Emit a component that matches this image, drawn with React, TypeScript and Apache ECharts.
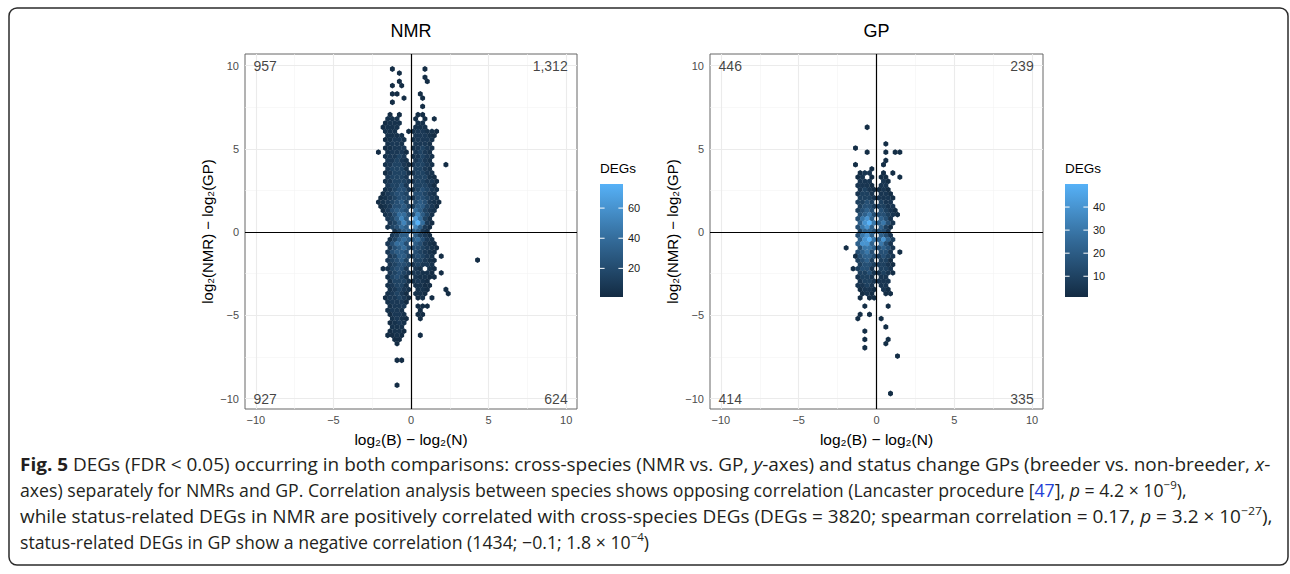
import React, { useEffect, useRef } from "react";
import * as echarts from "echarts";

// ---------- data ----------
const panelTitles = ["NMR", "GP"];
const axisTicks = [-10, -5, 0, 5, 10];
const minorBreaks = [-7.5, -2.5, 2.5, 7.5];
const zeroLines = [0];
const xTitle = "log\u2082(B) \u2212 log\u2082(N)";
const yTitle = "log\u2082(NMR) \u2212 log\u2082(GP)";

// quadrant counts: top-left, top-right, bottom-left, bottom-right
const nmrQuadrantCounts = ["957", "1,312", "927", "624"];
const gpQuadrantCounts = ["446", "239", "414", "335"];
const quadrantAnchors = [
  [-10.15, 10],
  [10.1, 10],
  [-10.15, -10],
  [10.1, -10],
];

// hexbin lattice (data units); odd rows shifted by half a column
const hexTopY = 9.8;
const hexRowStep = 0.25;
const hexColStep = 0.3;
const hexFirstCol = -2.4;
const levelChars = ".123456789ab";
const levelCounts = [0, 2, 5, 9, 15, 22, 30, 40, 52, 64, 72, 76];

const nmrHexRows = [
  "....1......1.....",
  ".....1...........",
  "...........1.....",
  ".....1.....1.....",
  "....1.1..........",
  "",
  "....11....1......",
  "......1...1......",
  "....1............",
  "..........1......",
  "",
  "...1.1...11......",
  "...222...1.1.1...",
  "..1222...22......",
  "..1222...222.....",
  "..222..1233221...",
  "...2222..33321...",
  "..12332.23332....",
  "...2332..3332....",
  "..12333.23432....",
  ".1.23331.3432....",
  "..23343.23432....",
  "...33432.3432....",
  "..23443134432..1.",
  "...34442.4432....",
  "..13444234432....",
  "...34443.44421...",
  "..234443344331...",
  "...34453.44431...",
  "..234553245432...",
  "..134554.55432...",
  ".1234554355432...",
  ".1234564.565321..",
  ".1235564466431...",
  "..135665.76432...",
  "..23577558642....",
  "...34686.9742....",
  "...346868b731....",
  "...24576.8631....",
  "....24666631.....",
  "....3466.6431....",
  "...2467667532....",
  "...35775.65321...",
  "...35675554321...",
  "...35665.54321...",
  "...3466445432.1..",
  "...34564.44321...",
  "...3455434332....",
  "..124553.32.21...",
  "...3454333221.1..",
  "...24542.32211...",
  "...244422321.....",
  "...23442.2211....",
  "...23432.221...1.",
  "...23431.221....1",
  "..133431.12.1....",
  "...23331.........",
  "...2333..111.....",
  "...2332...1......",
  "...1332..11......",
  "....2321..1......",
  "...1232..........",
  "....222..........",
  "...1221..........",
  "...1121...1......",
  "....11...........",
  ".....1...........",
  "",
  "",
  "",
  ".....11..........",
  "",
  "",
  "",
  "",
  "",
  ".....1...........",
];
const nmrExtraCells = [[4.29, -1.68, 2]];

const gpHexRows = [
  "", "", "", "", "", "", "", "", "", "", "", "", "", "",
  "......1..........",
  "",
  "",
  "",
  "..........1......",
  "...1.............",
  "......1...1.11...",
  "",
  "..........1......",
  "...1.....1.......",
  ".......1.........",
  "....122..1.1.....",
  "....12.1.11..1...",
  "....222..21......",
  "....2221.22......",
  "....2321121......",
  "....2332.221.....",
  "....33322221.....",
  "....3343.322.....",
  "....34433322.....",
  "....3454.4321....",
  "....456444321....",
  "....4675.542.....",
  "....57865642.....",
  "....4675.531.....",
  "....3554442......",
  "....4675.542.....",
  "....57865753.....",
  "....5775.642.....",
  ".1..46654542.....",
  "....4564.442.1...",
  "...145543432.....",
  "....3453.331.....",
  "....34433321.....",
  "...13442.332.....",
  "....33422321.....",
  "....2332.22......",
  "....2332222......",
  "....2232.22......",
  "....1221.21......",
  ".....121..11.....",
  "....1.11.........",
  "",
  ".....1....1......",
  "",
  "....1.1..........",
  "....1....1.......",
  "",
  "..........1......",
  ".....1...........",
  "",
  ".....1....1......",
  "..........1......",
  ".....1...........",
  "",
  "............1....",
  "", "", "", "", "", "", "", "",
  "...........1.....",
];
const gpExtraCells: number[][] = [];

const nmrCountRange = [1, 76];
const gpCountRange = [1, 50];
const nmrLegendTicks = [20, 40, 60];
const gpLegendTicks = [10, 20, 30, 40];
const legendTitle = "DEGs";

const captionLines = [
  "{b|Fig. 5} DEGs (FDR < 0.05) occurring in both comparisons: cross-species (NMR vs. GP, {i|y}-axes) and status change GPs (breeder vs. non-breeder, {i|x}-",
  "axes) separately for NMRs and GP. Correlation analysis between species shows opposing correlation (Lancaster procedure [{a|47}], {i|p} = 4.2 × 10{s|\u22129}),",
  "while status-related DEGs in NMR are positively correlated with cross-species DEGs (DEGs = 3820; spearman correlation = 0.17, {i|p} = 3.2 × 10{s|\u221227}),",
  "status-related DEGs in GP show a negative correlation (1434; \u22120.1; 1.8 × 10{s|\u22124})",
];

// ---------- helpers ----------
const FONT = "'Liberation Sans', Arial, Helvetica, sans-serif";
const CAP_FONT = "'Open Sans', 'Noto Sans', sans-serif";
const hexColors = ["#132B43", "#336A98", "#56B1F7"];
const HEX_PATH = "path://M0,0 L8.66,5 L8.66,15 L0,20 L-8.66,15 L-8.66,5 Z";
// justified lines (1st and 3rd) are stretched to the full text width
const captionStretch = [1.072, 1, 1.072, 1];

function decodeHex(rows: string[], extra: number[][]) {
  const out: number[][] = [];
  rows.forEach((row, r) => {
    const y = hexTopY - r * hexRowStep;
    const shift = r % 2 === 1 ? hexColStep / 2 : 0;
    for (let c = 0; c < row.length; c++) {
      const lv = levelChars.indexOf(row[c]);
      if (lv > 0) {
        out.push([
          +(hexFirstCol + shift + c * hexColStep).toFixed(3),
          +y.toFixed(3),
          levelCounts[lv],
        ]);
      }
    }
  });
  extra.forEach((e) => out.push(e));
  return out;
}

const fmtTick = (v: number) => (v < 0 ? "\u2212" + Math.abs(v) : String(v));

const grids = [
  { left: 245, top: 54, width: 332, height: 355 },
  { left: 710, top: 54, width: 333, height: 355 },
];

function buildOption() {
  const majorStyle = { color: "#EBEBEB", width: 1.1, type: "solid" };
  const minorStyle = { color: "#F3F3F3", width: 0.6, type: "solid" };
  const gridLineData: any[] = [];
  minorBreaks.forEach((v) => {
    gridLineData.push({ xAxis: v, lineStyle: minorStyle });
    gridLineData.push({ yAxis: v, lineStyle: minorStyle });
  });
  axisTicks.forEach((v) => {
    gridLineData.push({ xAxis: v, lineStyle: majorStyle });
    gridLineData.push({ yAxis: v, lineStyle: majorStyle });
  });
  const zeroData: any[] = [];
  zeroLines.forEach((v) => {
    zeroData.push({ xAxis: v });
    zeroData.push({ yAxis: v });
  });

  const panels = [
    { hex: decodeHex(nmrHexRows, nmrExtraCells), counts: nmrQuadrantCounts, range: nmrCountRange },
    { hex: decodeHex(gpHexRows, gpExtraCells), counts: gpQuadrantCounts, range: gpCountRange },
  ];

  const series: any[] = [];
  const visualMap: any[] = [];
  panels.forEach((p, i) => {
    series.push({
      type: "scatter",
      xAxisIndex: i,
      yAxisIndex: i,
      data: [],
      silent: true,
      z: 1,
      markLine: {
        silent: true,
        z: 1,
        symbol: ["none", "none"],
        label: { show: false },
        animation: false,
        data: gridLineData,
      },
    });
    series.push({
      type: "scatter",
      xAxisIndex: i,
      yAxisIndex: i,
      symbol: HEX_PATH,
      symbolSize: [4.9, 5.8],
      silent: true,
      z: 2,
      itemStyle: { opacity: 1 },
      data: p.hex,
    });
    series.push({
      type: "scatter",
      xAxisIndex: i,
      yAxisIndex: i,
      data: [],
      silent: true,
      z: 3,
      markLine: {
        silent: true,
        z: 3,
        symbol: ["none", "none"],
        label: { show: false },
        animation: false,
        lineStyle: { color: "#000", width: 1.2, type: "solid" },
        data: zeroData,
      },
    });
    series.push({
      type: "scatter",
      xAxisIndex: i,
      yAxisIndex: i,
      symbolSize: 0,
      silent: true,
      z: 4,
      data: quadrantAnchors.map((a, k) => ({
        value: a,
        name: p.counts[k],
        label: { position: k % 2 === 0 ? "right" : "left" },
      })),
      label: {
        show: true,
        distance: 0,
        formatter: (q: any) => q.name,
        color: "#111",
        fontSize: 14,
        fontFamily: FONT,
      },
    });
    visualMap.push({
      type: "continuous",
      show: false,
      seriesIndex: i * 4 + 1,
      dimension: 2,
      min: p.range[0],
      max: p.range[1],
      inRange: { color: hexColors, opacity: 1 },
    });
  });

  const xAxis = grids.map((_, i) => ({
    type: "value",
    gridIndex: i,
    min: -10.7,
    max: 10.7,
    axisLine: { show: false },
    axisTick: { show: true, length: 3, lineStyle: { color: "#333", width: 1 }, customValues: axisTicks },
    axisLabel: { customValues: axisTicks, color: "#4D4D4D", fontSize: 11, fontFamily: FONT, margin: 5, formatter: fmtTick },
    splitLine: { show: false },
    name: xTitle,
    nameLocation: "middle",
    nameGap: 22,
    nameTextStyle: { color: "#000", fontSize: 15.5, fontFamily: FONT },
  }));
  const yAxis = grids.map((_, i) => ({
    type: "value",
    gridIndex: i,
    min: -10.63,
    max: 10.7,
    axisLine: { show: false },
    axisTick: { show: true, length: 3, lineStyle: { color: "#333", width: 1 }, customValues: axisTicks },
    axisLabel: { customValues: axisTicks, color: "#4D4D4D", fontSize: 11, fontFamily: FONT, margin: 6, formatter: fmtTick },
    splitLine: { show: false },
    name: yTitle,
    nameLocation: "middle",
    nameRotate: 90,
    nameGap: 30,
    nameTextStyle: { color: "#000", fontSize: 15, fontFamily: FONT },
  }));

  // graphic: frame, titles, colour bars, caption
  const graphic: any[] = [];
  graphic.push({
    type: "rect",
    shape: { x: 9, y: 8, width: 1279, height: 557, r: 8 },
    style: { fill: "none", stroke: "#2b2b2b", lineWidth: 1.5 },
    silent: true,
  });
  grids.forEach((g, i) => {
    graphic.push({
      type: "text",
      x: g.left + g.width / 2,
      y: 31,
      style: { text: panelTitles[i], align: "center", verticalAlign: "middle", fontSize: 18, fontFamily: FONT, fill: "#000" },
      silent: true,
    });
  });
  const legends = [
    { left: grids[0].left + grids[0].width + 23, range: nmrCountRange, ticks: nmrLegendTicks },
    { left: grids[1].left + grids[1].width + 22, range: gpCountRange, ticks: gpLegendTicks },
  ];
  const barTop = 184;
  const barH = 113;
  const barW = 23;
  legends.forEach((L) => {
    graphic.push({
      type: "text",
      x: L.left,
      y: 168,
      style: { text: legendTitle, align: "left", verticalAlign: "middle", fontSize: 13.5, fontFamily: FONT, fill: "#000" },
      silent: true,
    });
    graphic.push({
      type: "rect",
      shape: { x: L.left, y: barTop, width: barW, height: barH },
      style: {
        fill: new echarts.graphic.LinearGradient(0, 0, 0, 1, [
          { offset: 0, color: hexColors[2] },
          { offset: 0.5, color: hexColors[1] },
          { offset: 1, color: hexColors[0] },
        ]),
      },
      silent: true,
    });
    L.ticks.forEach((t) => {
      const y = barTop + ((L.range[1] - t) / (L.range[1] - L.range[0])) * barH;
      graphic.push({
        type: "line",
        shape: { x1: L.left, y1: y, x2: L.left + 4.6, y2: y },
        style: { stroke: "#fff", lineWidth: 1 },
        silent: true,
      });
      graphic.push({
        type: "line",
        shape: { x1: L.left + barW - 4.6, y1: y, x2: L.left + barW, y2: y },
        style: { stroke: "#fff", lineWidth: 1 },
        silent: true,
      });
      graphic.push({
        type: "text",
        x: L.left + barW + 5,
        y,
        style: { text: String(t), align: "left", verticalAlign: "middle", fontSize: 11, fontFamily: FONT, fill: "#1a1a1a" },
        silent: true,
      });
    });
  });

  const capSize = 17.7;
  const capFill = "#231F20";
  const rich = {
    b: { fontSize: capSize, fontFamily: CAP_FONT, fontWeight: "bold", fill: capFill, lineHeight: 23 },
    i: { fontSize: capSize, fontFamily: CAP_FONT, fontStyle: "italic", fill: capFill, lineHeight: 23 },
    a: { fontSize: capSize, fontFamily: CAP_FONT, fill: "#2340d6", lineHeight: 23 },
    s: { fontSize: 11.5, fontFamily: CAP_FONT, fill: capFill, lineHeight: 11, verticalAlign: "top" },
  };
  captionLines.forEach((line, k) => {
    graphic.push({
      type: "text",
      x: 20,
      y: 464 + k * 26,
      scaleX: captionStretch[k],
      style: {
        text: line,
        rich,
        align: "left",
        verticalAlign: "middle",
        fontSize: capSize,
        fontFamily: CAP_FONT,
        fill: capFill,
        lineHeight: 23,
      },
      silent: true,
    });
  });

  return {
    animation: false,
    backgroundColor: "#fff",
    grid: grids.map((g) => ({
      ...g,
      show: true,
      backgroundColor: "#fff",
      borderColor: "#666",
      borderWidth: 1,
      containLabel: false,
    })),
    xAxis,
    yAxis,
    visualMap,
    series,
    graphic,
  };
}

export default function App() {
  const ref = useRef<HTMLDivElement>(null);
  useEffect(() => {
    if (!ref.current) return;
    const chart = echarts.init(ref.current, undefined, { renderer: "svg" });
    chart.setOption(buildOption() as any);
    return () => chart.dispose();
  }, []);
  return (
    <div
      ref={ref}
      style={{ position: "fixed", left: 0, top: 0, width: 1290, height: 574, background: "#fff" }}
    />
  );
}
